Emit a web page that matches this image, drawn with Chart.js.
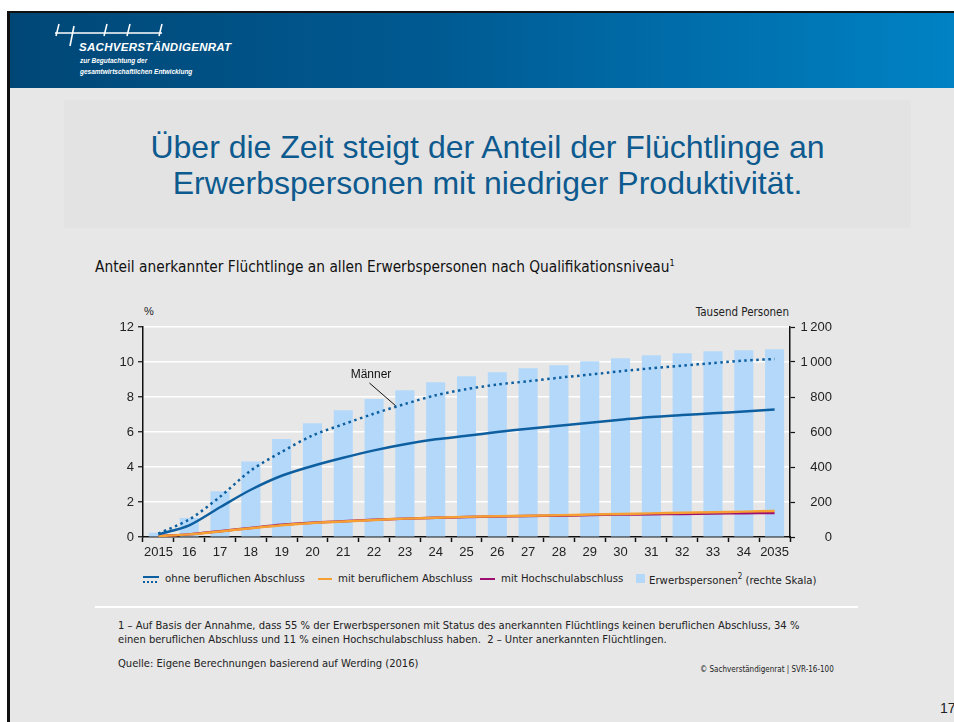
<!DOCTYPE html>
<html><head><meta charset="utf-8">
<script src="https://cdn.jsdelivr.net/npm/chart.js@4/dist/chart.umd.min.js"></script>
<style>
html,body{margin:0;padding:0;}
body{width:954px;height:722px;position:relative;overflow:hidden;background:#fff;font-family:"Liberation Sans",Arial,sans-serif;}
#page{position:absolute;left:7px;top:11px;width:947px;height:711px;background:#e7e7e7;border-left:3px solid #111;border-top:2px solid #111;box-sizing:border-box;}
#header{position:absolute;left:10px;top:13px;width:944px;height:75px;background:linear-gradient(90deg,#004776 0%,#005a92 45%,#0082c4 100%);}
.abs{position:absolute;white-space:nowrap;}
#titlebox{position:absolute;left:64px;top:100px;width:847px;height:128px;background:#e3e3e3;}
.title{left:64px;width:847px;text-align:center;color:#0d5a8f;font-size:32px;font-family:"Liberation Sans",Arial,sans-serif;}
.narrow{font-family:"DejaVu Sans Condensed","Liberation Sans",sans-serif;}
#wrap{position:absolute;left:85px;top:300px;width:747px;height:268px;}
.leg{position:absolute;top:572px;font-size:11.3px;color:#222;}
</style></head>
<body>
<div id="page"></div>
<div id="header"></div>
<svg class="abs" style="left:50px;top:20px" width="120" height="30">
  <g stroke="#fff" stroke-width="1.6" fill="none">
    <line x1="5" y1="13" x2="112" y2="13"/>
    <line x1="9" y1="4" x2="6" y2="16"/>
    <line x1="24" y1="6" x2="20" y2="26"/>
    <line x1="57" y1="4" x2="54" y2="16"/>
    <line x1="80" y1="4" x2="77" y2="16"/>
    <line x1="112" y1="4" x2="109" y2="16"/>
  </g>
</svg>
<div class="abs" style="left:79px;top:41px;color:#fff;font:italic bold 11.5px 'Liberation Sans',Arial,sans-serif;letter-spacing:0.3px">SACHVERSTÄNDIGENRAT</div>
<div class="abs" style="left:80px;top:57px;color:#fff;font:italic bold 6.5px 'Liberation Sans',Arial,sans-serif;">zur Begutachtung der</div>
<div class="abs" style="left:80px;top:68px;color:#fff;font:italic bold 6.5px 'Liberation Sans',Arial,sans-serif;">gesamtwirtschaftlichen Entwicklung</div>

<div id="titlebox"></div>
<div class="abs title" style="top:129px">Über die Zeit steigt der Anteil der Flüchtlinge an</div>
<div class="abs title" style="top:165px">Erwerbspersonen mit niedriger Produktivität.</div>

<div class="abs narrow" style="left:95px;top:258px;font-size:15.3px;color:#111">Anteil anerkannter Flüchtlinge an allen Erwerbspersonen nach Qualifikationsniveau<sup style="font-size:9px">1</sup></div>

<div class="abs" style="left:144px;top:305px;font-size:11px;color:#222">%</div>
<div class="abs narrow" style="left:660px;width:129px;text-align:right;top:305px;font-size:11.5px;color:#222">Tausend Personen</div>

<div id="wrap"><canvas id="c" width="747" height="268"></canvas></div>

<!-- legend -->
<div class="abs" style="left:143px;top:576px;width:16px;height:2px;background:#0d5fa0"></div>
<div class="abs" style="left:143px;top:581px;width:16px;height:2px;background:repeating-linear-gradient(90deg,#0d5fa0 0 2px,transparent 2px 4px)"></div>
<div class="leg narrow" style="left:165px">ohne beruflichen Abschluss</div>
<div class="abs" style="left:318px;top:578px;width:14px;height:2px;background:#f6a033"></div>
<div class="leg narrow" style="left:338px">mit beruflichem Abschluss</div>
<div class="abs" style="left:480px;top:578px;width:15px;height:2px;background:#9c0f70"></div>
<div class="leg narrow" style="left:501px">mit Hochschulabschluss</div>
<div class="abs" style="left:636px;top:574px;width:9px;height:9px;background:#b4d8fa"></div>
<div class="leg narrow" style="left:649px">Erwerbspersonen<sup style="font-size:8px">2</sup> (rechte Skala)</div>

<div class="abs" style="left:95px;top:606px;width:763px;height:2px;background:#fff"></div>
<div class="abs narrow" style="left:118px;top:619px;font-size:11.1px;color:#222;line-height:14px">1 – Auf Basis der Annahme, dass 55 % der Erwerbspersonen mit Status des anerkannten Flüchtlings keinen beruflichen Abschluss, 34 %<br>einen beruflichen Abschluss und 11 % einen Hochschulabschluss haben.&nbsp; 2 – Unter anerkannten Flüchtlingen.</div>
<div class="abs narrow" style="left:118px;top:657px;font-size:11.1px;color:#222">Quelle: Eigene Berechnungen basierend auf Werding (2016)</div>
<div class="abs narrow" style="left:700px;top:665px;font-size:8px;color:#222">© Sachverständigenrat | SVR-16-100</div>
<div class="abs" style="left:940px;top:700px;font-size:14px;color:#222">17</div>

<script>
const years = ['2015','16','17','18','19','20','21','22','23','24','25','26','27','28','29','30','31','32','33','34','2035'];
const ohneAbschluss = [0.15,0.67,1.7,2.7,3.5,4.06,4.53,4.95,5.3,5.58,5.78,6.0,6.19,6.36,6.53,6.7,6.86,6.97,7.07,7.17,7.28];
const ohneAbschlussMaenner = [0.2,1.0,2.3,3.8,4.86,5.8,6.44,7.05,7.6,8.1,8.45,8.71,8.9,9.1,9.28,9.47,9.64,9.79,9.94,10.08,10.17];
const mitBeruf = [0.05,0.15,0.32,0.5,0.67,0.8,0.88,0.97,1.05,1.1,1.15,1.18,1.21,1.24,1.28,1.32,1.35,1.38,1.41,1.45,1.49];
const mitHochschul = [0.05,0.15,0.33,0.52,0.7,0.82,0.9,0.98,1.05,1.1,1.14,1.17,1.2,1.22,1.25,1.28,1.3,1.32,1.34,1.36,1.37];
const erwerbspersonen = [25,109,261,432,560,650,724,789,838,884,918,941,964,981,1004,1021,1039,1050,1061,1067,1073];
const leftTicks = [0,2,4,6,8,10,12];
const rightTicks = [0,200,400,600,800,1000,1200];

const BLUE = '#0d5fa0';
const tickFont = {family:"'Liberation Sans', Arial, sans-serif", size:13};

const maennerLabel = {
  id:'maennerLabel',
  afterDatasetsDraw(chart){
    const x = chart.scales.x, y = chart.scales.y;
    const px = v => x.getPixelForValue(Math.floor(v)) + (v-Math.floor(v))*(x.getPixelForValue(1)-x.getPixelForValue(0));
    const ctx = chart.ctx;
    ctx.save();
    ctx.fillStyle='#111';
    ctx.font="12px 'Liberation Sans', Arial, sans-serif";
    ctx.textAlign='center'; ctx.textBaseline='middle';
    ctx.fillText('Männer', px(6.9), y.getPixelForValue(9.25));
    ctx.strokeStyle='#111'; ctx.lineWidth=1;
    ctx.beginPath();
    ctx.moveTo(px(6.85), y.getPixelForValue(8.8));
    ctx.lineTo(px(7.7), y.getPixelForValue(7.5));
    ctx.stroke();
    ctx.restore();
  }
};

new Chart(document.getElementById('c'), {
  data:{
    labels: years,
    datasets:[
      {type:'line', label:'Männer', data:ohneAbschlussMaenner, yAxisID:'y', borderColor:BLUE, borderWidth:2.5, borderDash:[2.5,3.5], pointRadius:0, tension:0.3, order:2},
      {type:'line', label:'ohne beruflichen Abschluss', data:ohneAbschluss, yAxisID:'y', borderColor:BLUE, borderWidth:2.5, pointRadius:0, tension:0.3, order:1},
      {type:'line', label:'mit Hochschulabschluss', data:mitHochschul, yAxisID:'y', borderColor:'#9c0f70', borderWidth:2.5, pointRadius:0, tension:0.3, order:4},
      {type:'line', label:'mit beruflichem Abschluss', data:mitBeruf, yAxisID:'y', borderColor:'#f6a033', borderWidth:2.5, pointRadius:0, tension:0.3, order:3},
      {type:'bar', label:'Erwerbspersonen (rechte Skala)', data:erwerbspersonen, yAxisID:'y1', backgroundColor:'#b4d8fa', categoryPercentage:1, barPercentage:0.62, order:10}
    ]
  },
  options:{
    responsive:false, animation:false,
    layout:{padding:{top:27,left:0,right:0,bottom:0}},
    plugins:{legend:{display:false}, tooltip:{enabled:false}},
    scales:{
      x:{type:'category', offset:true,
        grid:{offset:true, drawOnChartArea:false, drawTicks:true, tickLength:5, tickColor:'#111', tickWidth:1.5},
        border:{color:'#111', width:1.5},
        ticks:{font:tickFont, color:'#222', padding:3, maxRotation:0, autoSkip:false},
        afterFit(s){ s.height = 31; }
      },
      y:{position:'left', min:0, max:12,
        afterBuildTicks(s){ s.ticks = leftTicks.map(v=>({value:v})); },
        grid:{color:'#ffffff', lineWidth:1.5, tickColor:'#111', tickLength:5, tickWidth:1.2},
        border:{color:'#111', width:1.5},
        ticks:{font:tickFont, color:'#222', padding:4},
        afterFit(s){ s.width = 58; }
      },
      y1:{position:'right', min:0, max:1200,
        afterBuildTicks(s){ s.ticks = rightTicks.map(v=>({value:v})); },
        grid:{drawOnChartArea:false, tickColor:'#111', tickLength:5, tickWidth:1.2},
        border:{color:'#111', width:1.5},
        ticks:{font:tickFont, color:'#222', padding:8, crossAlign:'far',
          callback(v){ return v>=1000 ? Math.floor(v/1000)+'\u2009'+String(v%1000).padStart(3,'0') : String(v); }},
        afterFit(s){ s.width = 42; }
      }
    }
  },
  plugins:[maennerLabel]
});
</script>
</body></html>
